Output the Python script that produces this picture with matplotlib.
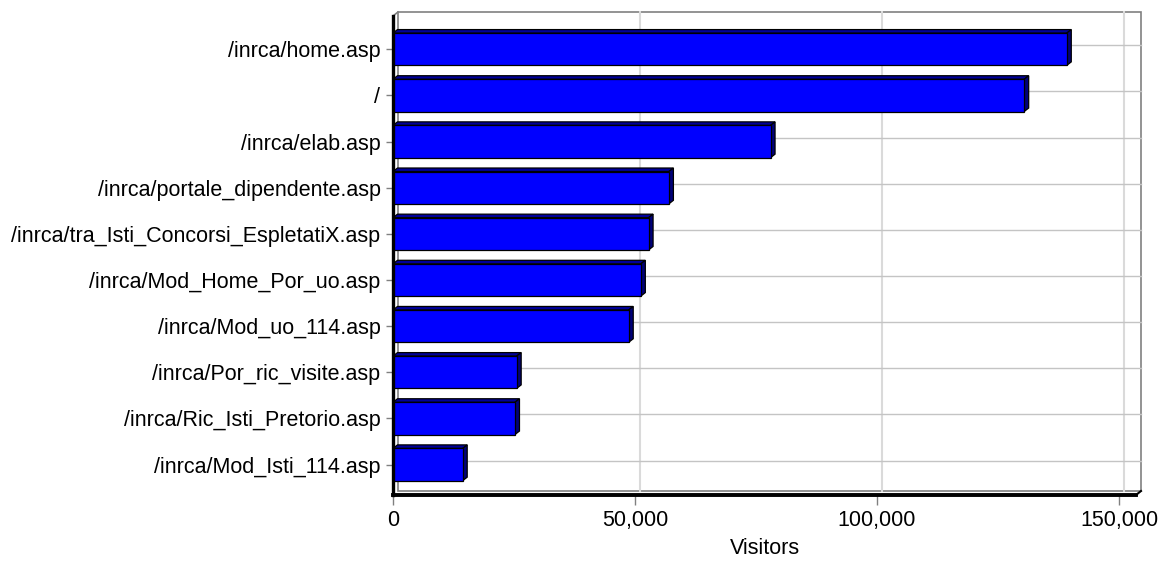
import matplotlib
matplotlib.use("Agg")
import matplotlib.pyplot as plt
from matplotlib import transforms
from matplotlib.patches import Polygon, Rectangle
from matplotlib.ticker import FuncFormatter

# data
pages = [
    "/inrca/home.asp",
    "/",
    "/inrca/elab.asp",
    "/inrca/portale_dipendente.asp",
    "/inrca/tra_Isti_Concorsi_EspletatiX.asp",
    "/inrca/Mod_Home_Por_uo.asp",
    "/inrca/Mod_uo_114.asp",
    "/inrca/Por_ric_visite.asp",
    "/inrca/Ric_Isti_Pretorio.asp",
    "/inrca/Mod_Isti_114.asp",
]
visitors = [139200, 130400, 78000, 57000, 52800, 51200, 48700, 25550, 25200, 14400]
x_ticks = [0, 50000, 100000, 150000]

plt.rcParams['font.family'] = ['Liberation Sans', 'DejaVu Sans']

W, H = 1165, 561
fig = plt.figure(figsize=(W / 100, H / 100), dpi=100)
# front frame of the pseudo-3D plot, in pixels
left_px, right_px, top_px, bottom_px = 393, 1136, 16, 495
ax = fig.add_axes([left_px / W, (H - bottom_px) / H,
                   (right_px - left_px) / W, (bottom_px - top_px) / H])

xmax = 153500
ylo, yhi = -0.72, len(pages) - 1 + 0.66
ax.set_xlim(0, xmax)
ax.set_ylim(yhi, ylo)

# depth of the wall and the bars, in pixels
wall_dx, wall_dy = 5, 4
bar_dx_px, bar_dy_px = 4.5, 3.5
x_per_px = xmax / (right_px - left_px)
y_per_px = (yhi - ylo) / (bottom_px - top_px)
bdx = bar_dx_px * x_per_px
bdy = bar_dy_px * y_per_px

back = transforms.offset_copy(ax.transData, fig=fig, x=wall_dx, y=wall_dy, units='dots')

# back wall
ax.add_patch(Rectangle((0, ylo), xmax, yhi - ylo, transform=back, facecolor='white',
                       edgecolor='#808080', lw=1.2, zorder=0, clip_on=False))
for xt in x_ticks[1:]:
    ax.plot([xt, xt], [ylo, yhi], transform=back, color='#dadada', lw=1.5, zorder=0.5,
            clip_on=False)
for i in range(len(pages)):
    ax.plot([0, xmax], [i, i], transform=back, color='#c4c4c4', lw=1, zorder=0.5,
            clip_on=False)

# left wall top edge and floor right edge
ax.add_line(plt.Line2D([0, wall_dx * x_per_px], [ylo, ylo - wall_dy * y_per_px],
                       color='#808080', lw=1.2, zorder=1, clip_on=False))
ax.add_line(plt.Line2D([xmax, xmax + wall_dx * x_per_px],
                       [yhi, yhi - wall_dy * y_per_px],
                       color='black', lw=1.5, zorder=1, clip_on=False))

# bars: front face plus top and side faces
bar_h = 0.70
ys = list(range(len(pages)))
ax.barh(ys, visitors, height=bar_h, color='#0000ff', edgecolor='black', lw=0.9, zorder=3)
for y, v in zip(ys, visitors):
    yt = y - bar_h / 2
    yb = y + bar_h / 2
    top = Polygon([(0, yt), (v, yt), (v + bdx, yt - bdy), (bdx, yt - bdy)], closed=True,
                  facecolor='#00009a', edgecolor='black', lw=0.9, zorder=2.5)
    side = Polygon([(v, yt), (v + bdx, yt - bdy), (v + bdx, yb - bdy), (v, yb)], closed=True,
                   facecolor='#00007a', edgecolor='black', lw=0.9, zorder=2.5)
    ax.add_patch(top)
    ax.add_patch(side)

# frame
for s in ['top', 'right']:
    ax.spines[s].set_visible(False)
ax.spines['left'].set_linewidth(2.4)
ax.spines['bottom'].set_linewidth(2.8)
ax.spines['left'].set_zorder(4)
ax.spines['bottom'].set_zorder(4)

ax.set_yticks(ys)
ax.set_yticklabels(pages)
ax.set_xticks(x_ticks)
ax.xaxis.set_major_formatter(FuncFormatter(lambda v, p: f"{v:,.0f}"))
ax.tick_params(axis='y', length=5, width=1, color='#808080', pad=4, labelsize=15.5)
ax.tick_params(axis='x', length=7, width=1, color='#808080', pad=4, labelsize=15.5)
ax.set_xlabel("Visitors", fontsize=15.5, labelpad=5)

fig.savefig("out.png", dpi=100)
